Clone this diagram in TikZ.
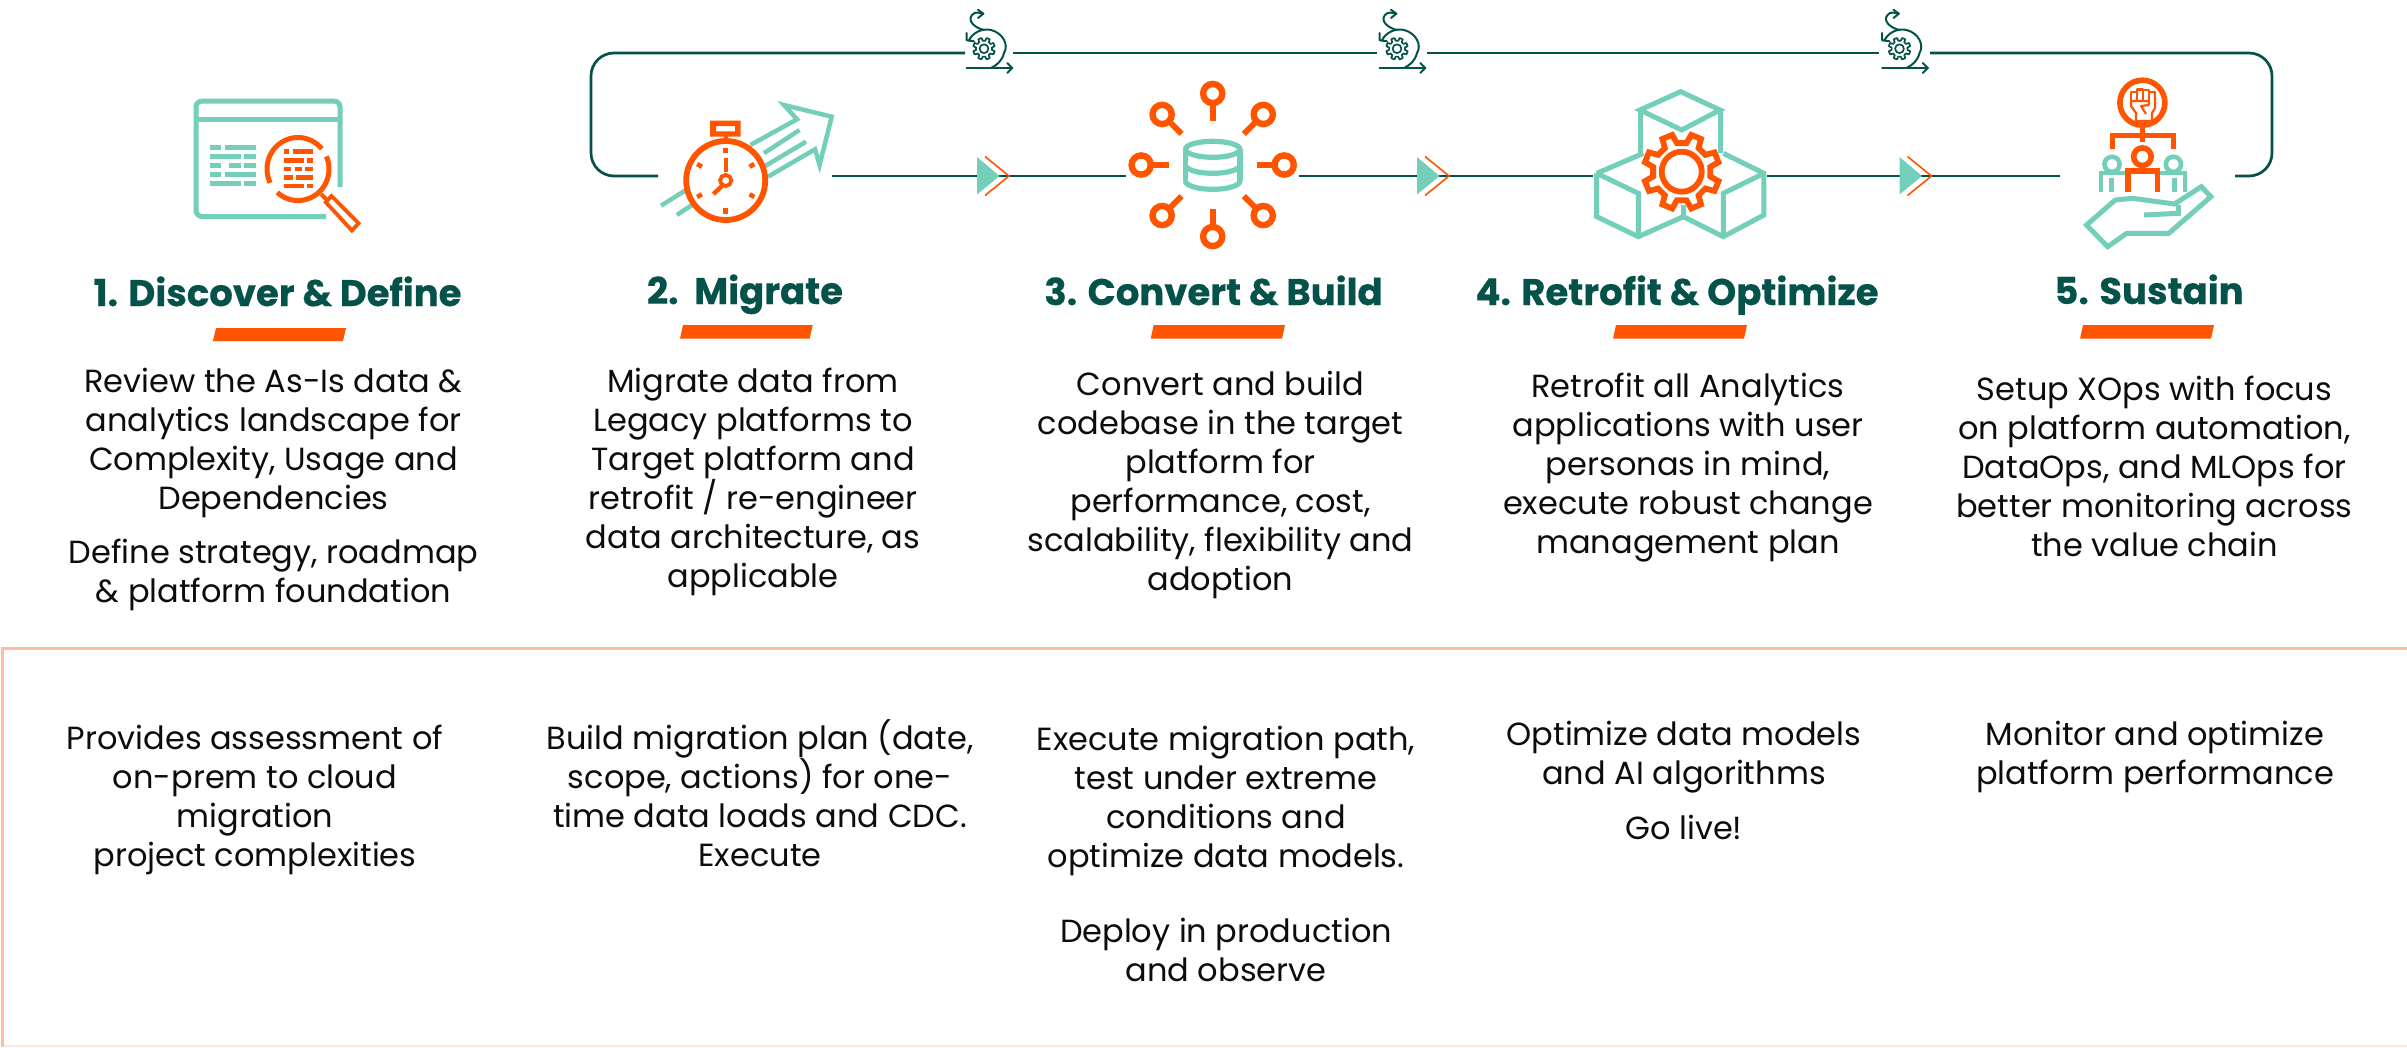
\documentclass[tikz,border=0pt]{standalone}
\usepackage{fontspec}
\setmainfont{Poppins}[BoldFeatures={FakeBold=0.5}]
\definecolor{dgreen}{HTML}{05524A}
\definecolor{teal2}{HTML}{74CFBA}
\definecolor{orng}{HTML}{FF5500}
\definecolor{boxline}{HTML}{FFBC9F}
\definecolor{boxfaint}{HTML}{FBE9E0}
\definecolor{bodyink}{HTML}{0C0C0C}
\newcommand\geartrace[3]{(22.5-13:#2) \foreach \a in {22.5,67.5,112.5,157.5,202.5,247.5,292.5,337.5}{ -- (\a-#3-5:#2) -- (\a-#3:#1) -- (\a+#3:#1) -- (\a+#3+5:#2)} -- cycle}
\tikzset{
  hline/.style={line width=4.5pt,line cap=butt},
  tealstroke/.style={draw=teal2,line width=4.6pt,line join=miter},
  orgstroke/.style={draw=orng,line width=5pt,line join=miter},
  flowline/.style={draw=dgreen,line width=2.7pt},
  gapnode/.style={inner sep=0pt,outer sep=0pt,minimum height=0pt,text height=0pt,text depth=0pt},
  headtext/.style={font=\fontsize{37}{40}\bfseries\selectfont,text=dgreen,inner sep=0pt,anchor=base},
  bodytext/.style={font=\fontsize{32}{39}\selectfont,text=bodyink,align=center,inner sep=0pt,anchor=base},
  bar/.style={fill=orng,draw=none},
  regicon/.pic={
    \begin{scope}[draw=dgreen,line width=2pt,line cap=round,line join=round]
      \draw (-22.3,15) -- (23.3,15);
      \draw (18.3,10) -- (23.3,15) -- (18.3,20);
      \draw (-20,-12.7) .. controls (-16,-21) and (-6,-25) .. (2,-23) .. controls (14,-20) and (20,-8) .. (15,0) .. controls (13,8) and (8,12) .. (2,15);
      \draw (-22.3,-20) -- (-22.3,-12.7) -- (-15,-11.7);
      \draw (-5,-23) .. controls (-14,-25) and (-22,-32) .. (-17,-38) .. controls (-14,-42) and (-9,-40) .. (-5.7,-39.3);
      \draw (-11,-43.3) -- (-5.7,-39.3) -- (-11,-35);
      \begin{scope}[shift={(-5,-4.3)}]
        \draw[line width=1.7pt] \geartrace{11}{8}{9};
        \draw[line width=1.7pt] (0,0) circle[radius=4.4];
      \end{scope}
    \end{scope}
  },
  flowtip/.pic={
    \fill[teal2] (0,-19) -- (0,18.5) -- (22.5,0) -- cycle;
    \draw[orng,line width=1.6pt,line join=miter] (8,-19.5) -- (32,0) -- (8,19.5);
  },
  lens/.pic={
    \draw[orgstroke,line width=6.4pt] (0,-71.5) circle[radius=9.6];
    \draw[orng,line width=5.8pt] (0,-61) -- (0,-44);
  }
}
\begin{document}
\begin{tikzpicture}[x=1pt,y=-1pt]
\useasboundingbox (0,0) rectangle (2407,1047);
\fill[white] (0,0) rectangle (2407,1047);

% lower box
\draw[boxfaint,line width=2pt] (2,1046) -- (2407,1046);
\draw[boxline,line width=3pt] (2407,648) -- (2,648) -- (2,1047);

% gap nodes
\node[gapnode,minimum width=174pt] (watch) at (745,176) {};
\node[gapnode,minimum width=173pt] (dbhub) at (1212.5,176) {};
\node[gapnode,minimum width=174pt] (cubes) at (1680,176) {};
\node[gapnode,minimum width=175pt] (people) at (2147.5,176) {};
\node[gapnode,minimum width=48pt] (loopa) at (989,53) {};
\node[gapnode,minimum width=50pt] (loopb) at (1402,53) {};
\node[gapnode,minimum width=51pt] (loopc) at (1904.5,53) {};
\coordinate (tl) at (591,53);
\coordinate (bl) at (591,176);
\coordinate (tr) at (2272,53);
\coordinate (br) at (2272,176);

% connectors
\draw[flowline] (watch.east) -- (dbhub.west);
\draw[flowline] (dbhub.east) -- (cubes.west);
\draw[flowline] (cubes.east) -- (people.west);
\draw[flowline,rounded corners=23pt] (watch.west) -- (bl) -- (tl) -- (loopa.west);
\draw[flowline] (loopa.east) -- (loopb.west);
\draw[flowline] (loopb.east) -- (loopc.west);
\draw[flowline,rounded corners=23pt] (loopc.east) -- (tr) -- (br) -- (people.east);

\pic at (977,176) {flowtip};
\pic at (1417,176) {flowtip};
\pic at (1899.5,176) {flowtip};
\pic at (989,53) {regicon};
\pic at (1402,53) {regicon};
\pic at (1904.5,53) {regicon};

% icon 1 window and magnifier
\draw[tealstroke,line width=5pt,rounded corners=6pt] (340,187) -- (340,101) -- (196,101) -- (196,216.5) -- (326,216.5);
\draw[teal2,line width=5pt] (196,119.3) -- (340,119.3);
\begin{scope}[teal2,hline]
\draw (210,147.7) -- (221.4,147.7) (225,147.7) -- (256,147.7);
\draw (210,156.7) -- (240.6,156.7) (244,156.7) -- (256,156.7);
\draw (210,165.3) -- (221.4,165.3) (229,165.3) -- (240.6,165.3) (244,165.3) -- (256,165.3);
\draw (210,174.3) -- (221.4,174.3) (225,174.3) -- (256,174.3);
\draw (210,183.3) -- (240.6,183.3) (244,183.3) -- (256,183.3);
\end{scope}
\fill[white] (298,169) circle[radius=34];
\begin{scope}[orng,hline]
\draw (284,151.7) -- (289.3,151.7) (293,151.7) -- (313,151.7);
\draw (284,160.3) -- (304,160.3) (306.5,160.3) -- (313,160.3);
\draw (284,169) -- (290.6,169) (295,169) -- (302,169) (305,169) -- (313,169);
\draw (284,177.3) -- (293,177.3) (295.5,177.3) -- (313,177.3);
\draw (284,186) -- (304,186) (306.5,186) -- (313,186);
\end{scope}
\draw[orng,line width=5pt] plot[domain=40:206,samples=40] ({298+31*cos(\x)},{169-31.5*sin(\x)});
\draw[orng,line width=5pt] plot[domain=228:383.6,samples=40] ({298+31*cos(\x)},{169-31.5*sin(\x)});
\draw[orng,line width=4pt] (321,194) -- (327,200);
\draw[orng,line width=3.8pt,line join=miter,fill=white] (331.5,196) -- (358.6,223.3) -- (351.9,230.5) -- (325.8,202.2) -- cycle;

% icon 2 stopwatch
\begin{scope}[teal2,line width=4.5pt,line join=miter]
\draw (750.4,145) -- (797,119.3) -- (784,105) -- (831.7,116.7) -- (819.6,165) -- (815,149.3) -- (768,176.7);
\draw (763.8,153.3) -- (799.6,130);
\draw (765.2,166) -- (806,141.7);
\draw (661,205.7) -- (686,190);
\draw (676.8,215) -- (697,201.7);
\end{scope}
\draw[orng,line width=5.8pt,fill=white] (725.7,180.5) circle[radius=39.5];
\fill[orng,even odd rule] (710,120.7) rectangle (740.6,136.7) (716,126) rectangle (735,131.3);
\fill[orng] (723.7,136) rectangle (727.7,142);
\foreach \t in {30,90,150,210,270,330}{
  \draw[orng,line width=4.6pt] ({725.7+27.5*cos(\t)},{180.5-27.5*sin(\t)}) -- ({725.7+33*cos(\t)},{180.5-33*sin(\t)});
}
\draw[orng,line width=4.4pt] (725.7,172) -- (725.7,158);
\draw[orng,line width=4.4pt] (722,186) -- (713.4,194);
\draw[orng,line width=3.8pt] (725.7,180.5) circle[radius=5.6];

% icon 3 database
\begin{scope}[teal2,line width=5.2pt]
\draw (1212.7,149.3) ellipse[x radius=27.2,y radius=8];
\draw (1185.5,149.3) -- (1185.5,181);
\draw (1239.9,149.3) -- (1239.9,181);
\draw plot[domain=180:360,samples=30] ({1212.7+27.2*cos(\x)},{165-8.3*sin(\x)});
\draw plot[domain=180:360,samples=30] ({1212.7+27.2*cos(\x)},{181-8.3*sin(\x)});
\end{scope}
\foreach \r in {0,45,90,135,180,225,270,315}{
  \pic[rotate=\r] at (1212.7,165) {lens};
}

% icon 4 cubes
\begin{scope}[shift={(1560,70)},x=0.3333pt,y=-0.3333pt,teal2,line width=5pt,line join=miter]
\draw (240,120) -- (362,65) -- (480,120) -- (365,180) -- cycle;
\draw (240,120) -- (240,255);
\draw (480,120) -- (480,250);
\draw (110,310) -- (250,250);
\draw (110,310) -- (235,370) -- (235,500);
\draw (110,310) -- (110,440) -- (235,500) -- (370,440) -- (490,500) -- (612,435) -- (612,310) -- (490,250);
\draw (612,310) -- (490,370) -- (490,500);
\draw (370,440) -- (370,405);
\end{scope}
\begin{scope}[shift={(1681.7,171.7)}]
\draw[orng,line width=5.8pt,line join=miter,fill=white] \geartrace{38}{29}{8};
\draw[orng,line width=5.8pt] (0,0) circle[radius=20];
\end{scope}

% icon 5 people
\draw[orng,line width=5.6pt] (2142.4,102.7) circle[radius=22.5];
\begin{scope}[orng,line width=2.2pt,line join=round]
\draw (2131,101) -- (2131,92) -- (2137,92) -- (2137,101);
\draw (2137,92) -- (2137,89.5) -- (2143,89.5) -- (2143,101);
\draw (2143,90) -- (2149,90) -- (2149,101);
\draw (2149,92) -- (2155,92) -- (2155,108) -- (2152,113) -- (2152,121) -- (2136,121) -- (2136,113) -- (2131,106) -- (2131,101);
\draw (2131,101) -- (2149,101) -- (2149,105) -- (2141,106) -- (2146,114);
\end{scope}
\draw[orng,line width=5pt] (2142.4,127) -- (2142.4,142);
\draw[orng,line width=5pt,line join=miter] (2112,149) -- (2112,135) -- (2173,135) -- (2173,149);
\begin{scope}[teal2,line width=4.6pt,line join=miter]
\draw (2112,164.3) circle[radius=7.6];
\draw (2173.4,164.3) circle[radius=7.6];
\draw (2101,191.7) -- (2101,173) -- (2127,173);
\draw (2185,191.7) -- (2185,173) -- (2159,173);
\draw (2111.5,191.7) -- (2111.5,178);
\draw (2174.5,191.7) -- (2174.5,178);
\end{scope}
\draw[orng,line width=5.6pt] (2142.4,156.7) circle[radius=8.8];
\draw[orng,line width=5.8pt,line join=miter] (2128,191.7) -- (2128,171) -- (2157.5,171) -- (2157.5,191.7);
\draw[teal2,line width=5pt,line join=miter] (2086.5,225) -- (2115.2,200) -- (2132.5,198.3) -- (2174.5,204) -- (2201.3,186.7) -- (2210.9,196.7) -- (2168.8,233.3) -- (2126.7,233.3) -- (2107.6,246.7) -- cycle;
\draw[teal2,line width=5pt,line join=miter] (2144,215) -- (2178.4,213.3) -- (2178.4,205);

% headings
\node[headtext] (h1) at (277.6,306) {1. Discover \& Define};
\node[headtext] (h2) at (745,304) {2.\ \ Migrate};
\node[headtext] (h3) at (1213.5,305) {3. Convert \& Build};
\node[headtext] (h4) at (1677,305) {4. Retrofit \& Optimize};
\node[headtext] (h5) at (2149,304) {5. Sustain};

% bars
\fill[bar] (216,328) -- (346,328) -- (343,341) -- (213,341) -- cycle;
\fill[bar] (683,325) -- (812.7,325) -- (809.7,338.7) -- (680,338.7) -- cycle;
\fill[bar] (1153.7,325) -- (1285,325) -- (1282,338.7) -- (1150.7,338.7) -- cycle;
\fill[bar] (1616,325) -- (1747,325) -- (1744,338.7) -- (1613,338.7) -- cycle;
\fill[bar] (2083,325) -- (2214,325) -- (2211,338.7) -- (2080,338.7) -- cycle;

% body text
\node[bodytext] (t1) at (273.5,602) {Review the As-Is data \&\\analytics landscape for\\Complexity, Usage and\\Dependencies\\[15pt]Define strategy, roadmap\\\& platform foundation};
\node[bodytext] (t2) at (753,587) {Migrate data from\\Legacy platforms to\\Target platform and\\retrofit / re-engineer\\data architecture, as\\applicable};
\node[bodytext] (t3) at (1220.5,590) {Convert and build\\codebase in the target\\platform for\\performance, cost,\\scalability, flexibility and\\adoption};
\node[bodytext] (t4) at (1688,553) {Retrofit all Analytics\\applications with user\\personas in mind,\\execute robust change\\management plan};
\node[bodytext] (t5) at (2154.5,556) {Setup XOps with focus\\on platform automation,\\DataOps, and MLOps for\\better monitoring across\\the value chain};

\node[bodytext] (b1) at (255,866) {Provides assessment of\\on-prem to cloud\\migration\\project complexities};
\node[bodytext] (b2) at (760,866) {Build migration plan (date,\\scope, actions) for one-\\time data loads and CDC.\\Execute};
\node[bodytext] (b3) at (1226,981) {Execute migration path,\\test under extreme\\conditions and\\optimize data models.\\[36pt]Deploy in production\\and observe};
\node[bodytext] (b4) at (1684,839) {Optimize data models\\and AI algorithms\\[16pt]Go live!};
\node[bodytext] (b5) at (2155,784) {Monitor and optimize\\platform performance};
\end{tikzpicture}
\end{document}
